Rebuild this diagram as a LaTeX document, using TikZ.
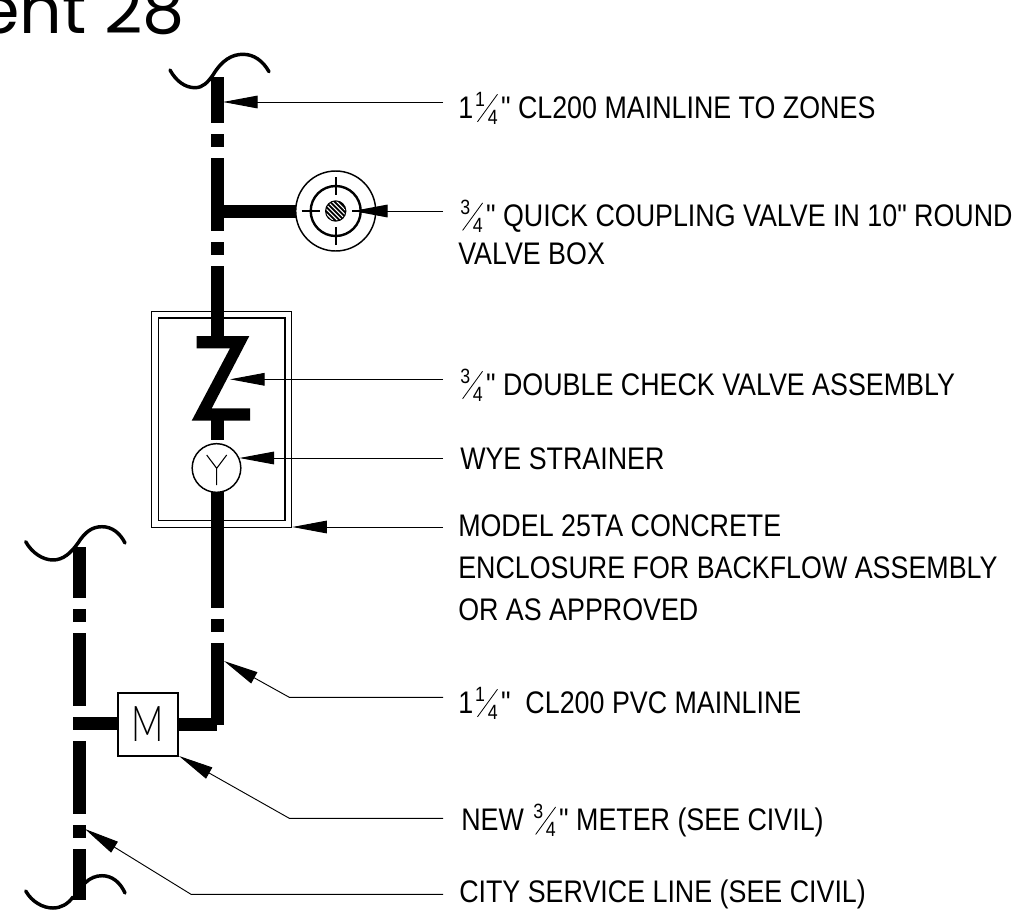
\documentclass[tikz,border=0pt]{standalone}
\usepackage{fontspec}
\setmainfont[FakeStretch=0.86,Ligatures=TeXOff]{Liberation Sans}
\newfontfamily\titlefont{Poppins}
\newfontfamily\meterfont[FakeStretch=0.72]{Lato Light}
\usetikzlibrary{arrows.meta}
\newcommand{\qm}{\symbol{34}}
\newcommand{\digitfont}{\fontsize{15.5pt}{15.5pt}\selectfont}
\newcommand{\frc}[2]{\mbox{\hspace{1.5pt}\rlap{\raisebox{9pt}{\digitfont #1}}\hspace{1.5pt}\rlap{\raisebox{-3pt}{\rotatebox{54}{\rule{25.5pt}{0.6pt}}}}\hspace{8pt}\raisebox{-4.5pt}{\digitfont #2}\hspace{2.5pt}}}
\tikzset{
  x=0.75pt,y=-0.75pt,
  label/.style={anchor=base west,inner sep=0pt,font=\fontsize{23.4pt}{31.5pt}\selectfont,align=left},
  pipe/.style={fill=black,draw=none},
  brk/.style={line width=2.6pt,line cap=round},
  leader/.style={line width=0.7pt,-{Triangle[length=26pt,width=9.5pt,sep=0pt]}},
  thin box/.style={line width=1.1pt,draw=black},
  tick/.style={line width=1.5pt},
}
\begin{document}
\begin{tikzpicture}
\useasboundingbox (0,0) rectangle (1017,921);
\clip (0,0) rectangle (1017,921);
\fill[white] (0,0) rectangle (1017,921);
\node[anchor=base east,inner sep=0pt,font=\titlefont\fontsize{50pt}{50pt}\selectfont] (title) at (185,33) {ent 28};
% main pipe
\foreach \a/\b in {77/123,134/147,158/231,242/255,266/336,420/440,492/608,619/632,643/725}
  \fill[pipe] (211,\a) rectangle (224,\b);
\fill[pipe] (224,205) rectangle (296,218);
\fill[pipe] (178,718) rectangle (217,731);
% service pipe
\foreach \a/\b in {547/598,609/622,633/706,717/730,741/814,825/838,849/900}
  \fill[pipe] (72.5,\a) rectangle (85.5,\b);
\fill[pipe] (72.5,717) rectangle (118,730);
% breaks
\draw[brk] (170,70) .. controls (176,81) and (185,87.7) .. (195,87.7) .. controls (203,87.7) and (208,82) .. (213,75) .. controls (222,60) and (232,54.3) .. (243,54.3) .. controls (254,54.3) and (263,61) .. (269,71.7);
\draw[brk] (25.7,541.7) .. controls (32,553) and (43,560) .. (53,560) .. controls (63,560) and (71,553) .. (78,543) .. controls (85,532) and (92,526.7) .. (102,526.7) .. controls (112,526.7) and (120,533) .. (125,543);
\draw[brk] (25.7,891) .. controls (32,902) and (43,908) .. (53,908) .. controls (61,908) and (68,904) .. (73,897);
\draw[brk] (85,883) .. controls (90,878) and (96,875.7) .. (102,875.7) .. controls (112,875.7) and (120,882) .. (125,893);
% valve
\node[circle,thin box,fill=white,minimum size=60pt,inner sep=0pt] (qcv) at (335.7,211) {};
\draw[line width=1.8pt] (qcv) circle (25);
\fill (qcv) circle (10.7);
\begin{scope}
\clip (qcv) circle (9.5);
\foreach \d in {-12,-7.5,-3,1.5,6,10.5}
  \draw[white,line width=0.75pt] ([shift={(\d-12,-12)}]qcv.center) -- ([shift={(\d+12,12)}]qcv.center);
\end{scope}
\draw[tick] ([yshift=25.5pt]qcv.center) -- ([yshift=12pt]qcv.center);
\draw[tick] ([yshift=-25.5pt]qcv.center) -- ([yshift=-12pt]qcv.center);
\draw[tick] ([xshift=-25.5pt]qcv.center) -- ([xshift=-12pt]qcv.center);
\draw[tick] ([xshift=25.5pt]qcv.center) -- ([xshift=12pt]qcv.center);
% enclosure
\draw[thin box] (151.7,311.7) rectangle (291.7,527.3);
\draw[thin box] (158.3,318) rectangle (285,520.7);
\coordinate (encl) at (292.3,527);
% check valve Z
\fill[pipe] (196.7,336) -- (249.3,336) -- (211.7,408.3) -- (250,408.3) -- (250,420.7) -- (191.7,420.7) -- (230,348.3) -- (196.7,348.3) -- cycle;
\coordinate (chk) at (230,379.3);
% wye
\node[circle,draw=black,line width=1.1pt,fill=white,minimum size=36.5pt,inner sep=0pt] (wye) at (216.5,468) {};
\draw[line width=0.8pt] (206.7,455) -- (216.7,468.3) -- (226.7,455) (216.7,468.3) -- (216.7,485);
% meter
\node[draw=black,line width=1.1pt,fill=white,minimum width=45pt,minimum height=47.5pt,inner sep=0pt,font=\meterfont\fontsize{37pt}{37pt}\selectfont] (meter) at (147.8,724.5) {M};
\fill[pipe] (178.4,718) rectangle (217,731);
% labels
\node[label] (t1) at (458,118) {1\frc{1}{4}\qm{} CL200 MAINLINE TO ZONES};
\node[label] (t2) at (458,226.7) {\frc{3}{4}\qm{} QUICK COUPLING VALVE IN 10\qm{} ROUND};
\node[label] (t2b) at (458,264) {VALVE BOX};
\node[label] (t3) at (458,395) {\frc{3}{4}\qm{} DOUBLE CHECK VALVE ASSEMBLY};
\node[label] (t4) at (460,469) {WYE STRAINER};
\node[label] (t5) at (458,536) {MODEL 25TA CONCRETE};
\node[label] (t5b) at (458,578) {ENCLOSURE FOR BACKFLOW ASSEMBLY};
\node[label] (t5c) at (458,620) {OR AS APPROVED};
\node[label] (t6) at (458,713) {1\frc{1}{4}\qm\ \ CL200 PVC MAINLINE};
\node[label] (t7) at (461,830.7) {NEW \frc{3}{4}\qm{} METER (SEE CIVIL)};
\node[label] (t8) at (459,902.7) {CITY SERVICE LINE (SEE CIVIL)};
% leader ends
\coordinate (e1) at (443,102);
\coordinate (e2) at (443,211);
\coordinate (e3) at (443,379.3);
\coordinate (e4) at (443,458);
\coordinate (e5) at (443,527);
\coordinate (e6) at (443,697.3);
\coordinate (e7) at (443,818.3);
\coordinate (e8) at (443,894.3);
\coordinate (p1) at (223,102);
\coordinate (p2) at (353,211);
\coordinate (p6) at (224,661);
\coordinate (p7) at (179,756);
\coordinate (p8) at (85,829);
\draw[leader] (e1) -- (p1);
\draw[leader] (e2) -- (p2);
\draw[leader] (e3) -- (chk);
\draw[leader] (e4) -- (e4 -| wye.24);
\draw[leader] (e5) -- (encl);
\draw[leader] (e6) -- (289.3,697.3) -- (p6);
\draw[leader] (e7) -- (289.3,818.3) -- (p7);
\draw[leader] (e8) -- (191,894.3) -- (p8);
\end{tikzpicture}
\end{document}
